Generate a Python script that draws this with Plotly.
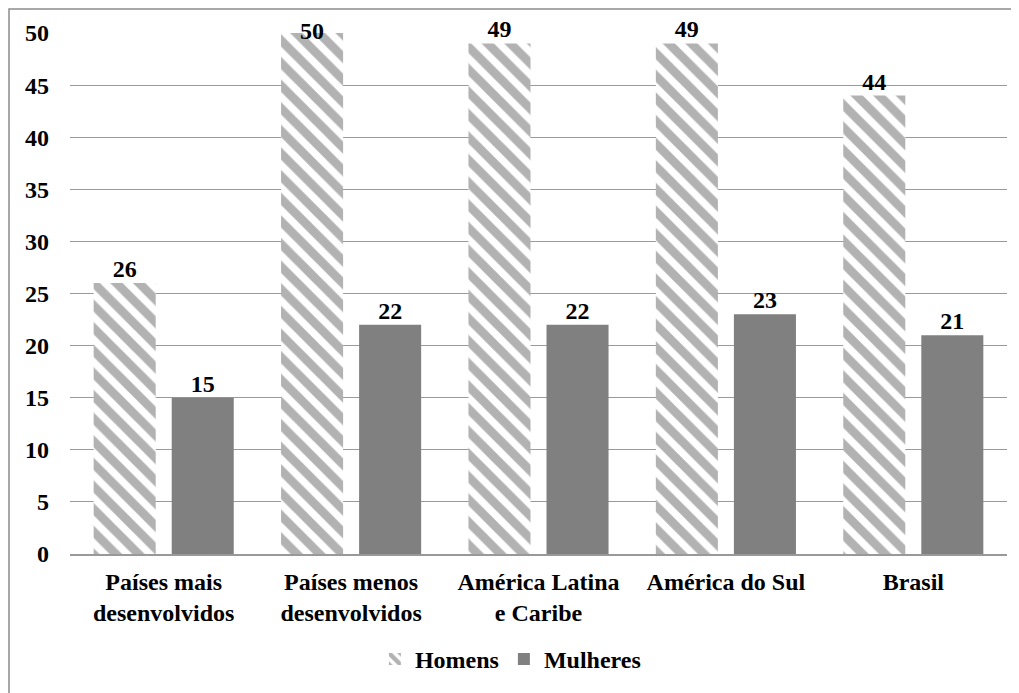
import plotly.graph_objects as go

categories = ["Países mais<br>desenvolvidos", "Países menos<br>desenvolvidos",
              "América Latina<br>e Caribe", "América do Sul", "Brasil"]
homens = [26, 50, 49, 49, 44]
mulheres = [15, 22, 22, 23, 21]
y_ticks = [0, 5, 10, 15, 20, 25, 30, 35, 40, 45, 50]
series = [("Homens", homens), ("Mulheres", mulheres)]

FONT = "Liberation Serif"
GRAY = "#808080"
W, H = 1011, 685
L, R, T, B = 62, 12, 25, 138
PW, PH = W - L - R, H - T - B
BARGAP = 0.167

def bold_font(size, fam=FONT):
    return dict(family=fam, size=size, color="black", weight="bold")

fig = go.Figure()
fig.add_trace(go.Bar(
    x=categories, y=homens, name="Homens", offsetgroup="Homens",
    marker=dict(color="white", line=dict(width=0),
                pattern=dict(shape="\\", fgcolor="#666666", bgcolor="white", size=16, solidity=0.55)),
))
fig.add_trace(go.Bar(
    x=categories, y=mulheres, name="Mulheres", offsetgroup="Mulheres",
    marker=dict(color=GRAY, line=dict(width=0)),
))

# value labels: grouped text-only scatter traces aligned with the bars
ymax = max(y_ticks)
for name, vals in series:
    fig.add_trace(go.Scatter(
        x=categories, y=vals, mode="text", text=[str(v) for v in vals],
        textposition=["middle center" if v >= ymax else "top center" for v in vals],
        marker=dict(size=18), offsetgroup=name, showlegend=False, cliponaxis=False,
        textfont=bold_font(24), hoverinfo="skip",
    ))

fig.update_layout(
    width=W, height=H,
    margin=dict(l=L, r=R, t=T, b=B),
    paper_bgcolor="white", plot_bgcolor="white",
    barmode="group", bargap=BARGAP, bargroupgap=0.205,
    scattermode="group", scattergap=BARGAP,
    font=bold_font(24),
    showlegend=True,
    legend=dict(orientation="h", x=0.47, xanchor="center", y=-0.2, yanchor="middle",
                font=bold_font(24), traceorder="normal", itemwidth=30),
    xaxis=dict(showline=True, linecolor="#999999", linewidth=1.5, ticks="",
               tickfont=bold_font(24), showgrid=False, ticklabelstandoff=5),
    yaxis=dict(range=[0, ymax], tickvals=y_ticks, showgrid=True, gridcolor="#9a9a9a",
               gridwidth=1.2, zeroline=False, showline=False, ticks="",
               tickfont=bold_font(24), ticklabelstandoff=20),
    shapes=[dict(type="rect", xref="paper", yref="paper",
                 x0=(1 - L) / PW, x1=1.05, y0=-0.4, y1=(PH + T - 1) / PH,
                 line=dict(color="#8c8c8c", width=1.5), fillcolor="rgba(0,0,0,0)", layer="below")],
)

fig.write_html("out.html")
